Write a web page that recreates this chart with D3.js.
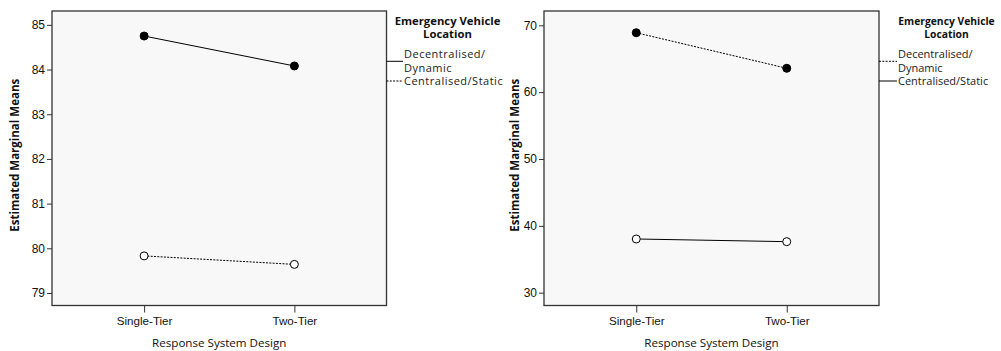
<!DOCTYPE html>
<html>
<head>
<meta charset="utf-8">
<script src="https://cdn.jsdelivr.net/npm/d3@7"></script>
<style>
  body { margin: 0; background: #fff; }
  svg { display: block; font-family: "Open Sans", "Noto Sans", sans-serif; }
  .tick text { font-size: 12px; fill: #111; }
  .tick line, .domain { stroke: #333; }
</style>
</head>
<body>
<div id="chart"></div>
<script>
const svgWidth = 1001;
const svgHeight = 351;

// data
const categories = ["Single-Tier", "Two-Tier"];
const seriesNames = [["Decentralised/", "Dynamic"], ["Centralised/Static"]];
const leftDecentralised = [84.75, 84.08];
const leftCentralised = [79.83, 79.64];
const rightDecentralised = [68.89, 63.57];
const rightCentralised = [38.03, 37.63];
const leftTicks = [79, 80, 81, 82, 83, 84, 85];
const rightTicks = [30, 40, 50, 60, 70];
const legendTitle = ["Emergency Vehicle", "Location"];
const xTitle = "Response System Design";
const yTitle = "Estimated Marginal Means";

const svg = d3.select("#chart")
  .append("svg")
  .attr("width", svgWidth)
  .attr("height", svgHeight);

function drawPanel(opts) {
  const g = svg.append("g");
  const box = opts.box;

  const x = d3.scalePoint()
    .domain(categories)
    .range([box.left, box.right])
    .padding(0.613);

  const y = d3.scaleLinear()
    .domain(opts.domain)
    .range([box.bottom, box.top]);

  // plot background
  g.append("rect")
    .attr("x", box.left)
    .attr("y", box.top)
    .attr("width", box.right - box.left)
    .attr("height", box.bottom - box.top)
    .attr("fill", "#f8f8f8")
    .attr("stroke", "#333")
    .attr("stroke-width", 1.3);

  // axes
  const yAxis = g.append("g")
    .attr("transform", `translate(${box.left},0)`)
    .call(d3.axisLeft(y).tickValues(opts.ticks).tickFormat(d3.format("d"))
      .tickSize(5).tickPadding(2).tickSizeOuter(0));
  yAxis.select(".domain").remove();

  const xAxis = g.append("g")
    .attr("transform", `translate(0,${box.bottom})`)
    .call(d3.axisBottom(x).tickSize(7).tickPadding(4).tickSizeOuter(0));
  xAxis.select(".domain").remove();
  xAxis.selectAll(".tick text").style("font-size", "11.6px");

  // axis titles
  g.append("text")
    .attr("x", (box.left + box.right) / 2)
    .attr("y", 347)
    .attr("text-anchor", "middle")
    .attr("font-size", 11.6)
    .attr("fill", "#111")
    .text(xTitle);

  g.append("text")
    .attr("transform", `translate(${opts.yTitleX},${(box.top + box.bottom) / 2 - 3}) rotate(-90)`)
    .attr("text-anchor", "middle")
    .attr("font-size", 11.5)
    .attr("font-weight", "bold")
    .attr("fill", "#111")
    .text(yTitle);

  // series lines and markers
  const series = [
    { values: opts.decentralised, filled: true, dashed: opts.dashedFirst },
    { values: opts.centralised, filled: false, dashed: !opts.dashedFirst }
  ];

  const line = d3.line()
    .x((d, i) => x(categories[i]))
    .y(d => y(d));

  series.forEach(s => {
    g.append("path")
      .datum(s.values)
      .attr("d", line)
      .attr("fill", "none")
      .attr("stroke", "#000")
      .attr("stroke-width", 1)
      .attr("stroke-dasharray", s.dashed ? "2,1.3" : null);

    g.selectAll(null)
      .data(s.values)
      .enter()
      .append("circle")
      .attr("cx", (d, i) => x(categories[i]))
      .attr("cy", d => y(d))
      .attr("r", 4)
      .attr("fill", s.filled ? "#000" : "#fff")
      .attr("stroke", "#000")
      .attr("stroke-width", 1);
  });

  // legend
  const lg = g.append("g");
  lg.selectAll(null)
    .data(legendTitle)
    .enter()
    .append("text")
    .attr("x", opts.legendCenter)
    .attr("y", (d, i) => 25 + i * 13)
    .attr("text-anchor", "middle")
    .attr("font-size", opts.legendTitleSize)
    .attr("font-weight", "bold")
    .attr("fill", "#111")
    .text(d => d);

  const itemLineY = [61.3, 81];
  const itemTextY = [57.5, 85];
  series.forEach((s, i) => {
    lg.append("line")
      .attr("x1", box.right)
      .attr("x2", box.right + opts.legendTextOffset - 1)
      .attr("y1", itemLineY[i])
      .attr("y2", itemLineY[i])
      .attr("stroke", "#000")
      .attr("stroke-width", 1)
      .attr("stroke-dasharray", s.dashed ? "2,1.3" : null);

    lg.selectAll(null)
      .data(seriesNames[i])
      .enter()
      .append("text")
      .attr("x", box.right + opts.legendTextOffset)
      .attr("y", (d, j) => itemTextY[i] + j * 14)
      .attr("font-size", opts.legendItemSize)
      .attr("letter-spacing", opts.legendItemSpacing)
      .attr("fill", "#222")
      .text(d => d);
  });
}

drawPanel({
  box: { left: 52, right: 386.5, top: 11, bottom: 305.5 },
  domain: [78.72, 85.31],
  ticks: leftTicks,
  decentralised: leftDecentralised,
  centralised: leftCentralised,
  dashedFirst: false,
  yTitleX: 19,
  legendCenter: 447.5,
  legendTextOffset: 17.5,
  legendTitleSize: 11.3,
  legendItemSize: 11,
  legendItemSpacing: 0.5
});

drawPanel({
  box: { left: 544, right: 879, top: 11, bottom: 305.5 },
  domain: [28.08, 72.14],
  ticks: rightTicks,
  decentralised: rightDecentralised,
  centralised: rightCentralised,
  dashedFirst: true,
  yTitleX: 519,
  legendCenter: 946.5,
  legendTextOffset: 19,
  legendTitleSize: 10.3,
  legendItemSize: 11,
  legendItemSpacing: 0
});
</script>
</body>
</html>
